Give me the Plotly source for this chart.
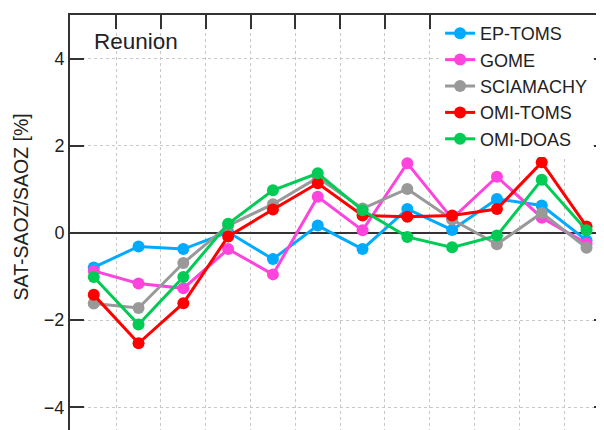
import plotly.graph_objects as go

# month index 1..12
months = list(range(1, 13))

ep_toms = [-0.79, -0.31, -0.37, 0.02, -0.60, 0.17, -0.37, 0.55, 0.07, 0.78, 0.63, -0.17]
gome = [-0.87, -1.16, -1.27, -0.37, -0.95, 0.83, 0.06, 1.60, 0.33, 1.29, 0.35, -0.24]
sciamachy = [-1.62, -1.72, -0.69, 0.17, 0.66, 1.27, 0.56, 1.01, 0.31, -0.26, 0.46, -0.34]
omi_toms = [-1.42, -2.53, -1.61, -0.08, 0.54, 1.14, 0.40, 0.37, 0.40, 0.55, 1.62, 0.15]
omi_doas = [-1.01, -2.10, -1.01, 0.21, 0.98, 1.37, 0.52, -0.09, -0.33, -0.06, 1.22, 0.06]

series = [
    ("EP-TOMS", ep_toms, "#00AAFF", "y"),
    ("GOME", gome, "#FF44DD", "y"),
    ("SCIAMACHY", sciamachy, "#999999", "y"),
    ("OMI-TOMS", omi_toms, "#FF0000", "y"),
    ("OMI-DOAS", omi_doas, "#00CC55", "y2"),  # on the twin axis so the right ticks get drawn
]

y_ticks = [-4, -2, 0, 2, 4]
y_range = [-4.52, 5]
x_grid = [m + 0.5 for m in months[:-1]]

fig = go.Figure()
for name, vals, col, yax in series:
    fig.add_trace(go.Scatter(
        x=months, y=vals, name=name, mode="lines+markers", yaxis=yax,
        line=dict(color=col, width=3),
        marker=dict(color=col, size=12),
    ))

axcol = "#333333"
gridcol = "#C8C8C8"

# page body has an 8px margin, so the figure is 8px smaller and margins shifted
fig.update_layout(
    width=596, height=422,
    margin=dict(l=62, r=0, t=7, b=0),
    paper_bgcolor="white", plot_bgcolor="white",
    font=dict(family="Liberation Sans, Arial, sans-serif", color="#222222", size=18),
    showlegend=True,
    legend=dict(
        x=0.693, y=1.0, xanchor="left", yanchor="top",
        bgcolor="white", font=dict(size=18),
        itemwidth=30,
    ),
    xaxis=dict(
        range=[0.47, 12.39], side="top",
        showline=True, linecolor=axcol, linewidth=2,
        ticks="inside", ticklen=14, tickwidth=2, tickcolor=axcol,
        tickvals=x_grid, showticklabels=False,
        showgrid=True, gridcolor=gridcol, griddash="dot", gridwidth=1,
        zeroline=False,
    ),
    yaxis=dict(
        range=y_range,
        showline=True, linecolor=axcol, linewidth=2,
        ticks="inside", ticklen=14, tickwidth=2, tickcolor=axcol,
        tickvals=y_ticks, tickfont=dict(size=18),
        showgrid=True, gridcolor=gridcol, griddash="dot", gridwidth=1,
        zeroline=True, zerolinecolor=axcol, zerolinewidth=2,
    ),
    yaxis2=dict(
        range=y_range, overlaying="y", side="right",
        ticks="inside", ticklen=10, tickwidth=2, tickcolor=axcol,
        tickvals=y_ticks, showticklabels=False,
        showgrid=False, showline=False, zeroline=False,
    ),
    annotations=[
        dict(text="Reunion", xref="paper", yref="paper",
             x=0.041, y=0.937, xanchor="left", yanchor="middle",
             showarrow=False, font=dict(size=22.5)),
        dict(text="SAT-SAOZ/SAOZ [%]", xref="paper", yref="paper",
             x=-0.09, y=0.5386, xanchor="center", yanchor="middle",
             textangle=-90, showarrow=False, font=dict(size=19.5)),
    ],
)

fig.write_html("out.html")
